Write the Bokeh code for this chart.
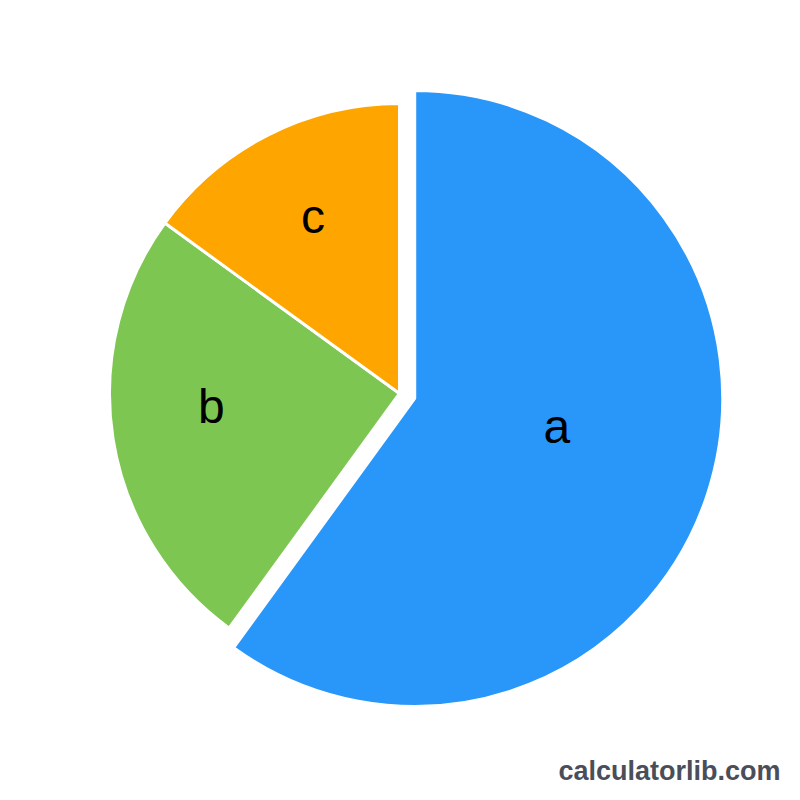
import math
from bokeh.plotting import figure
from bokeh.models import Range1d, Label
from bokeh.core.properties import value
from bokeh.embed import file_html
from bokeh.resources import INLINE

# ---- data ----
categories = ["a", "b", "c"]
values = [60, 25, 15]
colors = ["#2996fa", "#7ec652", "#ffa500"]
watermark = "calculatorlib.com"

# ---- layout (styles / geometry) ----
W = H = 784
center = (399, 391)
base_radius = 290
exploded_radius = 308
explode = [16, 0, 0]
label_frac = [0.47, 0.65, 0.68]
label_nudge_deg = [7, -5, -1]

p = figure(width=W, height=H, output_backend="svg", toolbar_location=None,
           x_range=Range1d(0, W), y_range=Range1d(0, H), min_border=0)
p.axis.visible = False
p.grid.visible = False
p.outline_line_color = None
p.background_fill_color = "white"
p.border_fill_color = "white"

total = sum(values)
start = math.pi / 2  # 12 o'clock, going clockwise
for i, (cat, v, col) in enumerate(zip(categories, values, colors)):
    sweep = 2 * math.pi * v / total
    end = start - sweep
    mid = (start + end) / 2
    cx = center[0] + explode[i] * math.cos(mid)
    cy = center[1] + explode[i] * math.sin(mid)
    r = exploded_radius if explode[i] > 0 else base_radius
    p.wedge(x=[cx], y=[cy], radius=r, start_angle=end, end_angle=start,
            fill_color=col, line_color="white", line_width=3)
    la = mid + math.radians(label_nudge_deg[i])
    lx = cx + label_frac[i] * r * math.cos(la)
    ly = cy + label_frac[i] * r * math.sin(la)
    p.text(x=[lx], y=[ly], text=[cat], text_align="center", text_baseline="middle",
           text_font=value("Liberation Sans"), text_font_size="48px", text_color="black")
    start = end

p.add_layout(Label(x=W - 4, y=14, text=watermark, text_align="right",
                   text_baseline="alphabetic", text_font="Liberation Sans",
                   text_font_size="27px", text_font_style="bold", text_color="#4a4e59"))

open("out.html", "w").write(file_html(p, INLINE))
